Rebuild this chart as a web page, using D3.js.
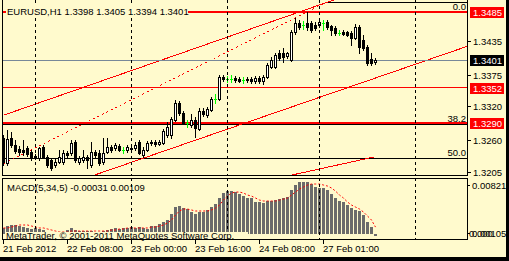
<!DOCTYPE html>
<html>
<head>
<meta charset="utf-8">
<script src="https://cdn.jsdelivr.net/npm/d3@7"></script>
<style>
  body { margin: 0; background: #fffacd; overflow: hidden; }
  text { font-family: "Liberation Sans", Arial, sans-serif; font-size: 9.5px; }
</style>
</head>
<body>
<div id="chart"></div>
<script>
// EURUSD H1 bars, 21 Feb 16:00 .. 27 Feb 14:00
const opens = [1.3264,1.3220,1.3264,1.3252,1.3245,1.3243,1.3247,1.3240,1.3233,1.3229,
  1.3248,1.3231,1.3226,1.3217,1.3222,1.3222,1.3238,1.3238,1.3257,1.3222,
  1.3226,1.3231,1.3217,1.3240,1.3238,1.3222,1.3240,1.3248,1.3247,1.3250,
  1.3243,1.3243,1.3247,1.3247,1.3257,1.3234,1.3243,1.3257,1.3257,1.3254,
  1.3255,1.3269,1.3269,1.3296,1.3325,1.3308,1.3290,1.3287,1.3296,1.3280,
  1.3311,1.3304,1.3313,1.3332,1.3332,1.3371,1.3368,1.3368,1.3369,1.3368,
  1.3366,1.3368,1.3368,1.3364,1.3369,1.3364,1.3371,1.3389,1.3389,1.3413,
  1.3413,1.3408,1.3401,1.3450,1.3466,1.3462,1.3466,1.3466,1.3462,1.3462,
  1.3466,1.3467,1.3460,1.3457,1.3448,1.3450,1.3450,1.3448,1.3439,1.3459,
  1.3436,1.3424,1.3403,1.3398];
const highs = [1.3269,1.3278,1.3275,1.3261,1.3250,1.3261,1.3250,1.3243,1.3236,1.3248,
  1.3252,1.3234,1.3229,1.3229,1.3243,1.3243,1.3241,1.3261,1.3261,1.3233,
  1.3243,1.3234,1.3257,1.3243,1.3243,1.3264,1.3264,1.3252,1.3255,1.3254,
  1.3248,1.3252,1.3250,1.3257,1.3261,1.3248,1.3259,1.3261,1.3261,1.3261,
  1.3280,1.3292,1.3301,1.3331,1.3329,1.3311,1.3296,1.3306,1.3301,1.3317,
  1.3317,1.3318,1.3336,1.3341,1.3375,1.3375,1.3373,1.3375,1.3373,1.3371,
  1.3371,1.3371,1.3371,1.3373,1.3373,1.3375,1.3396,1.3406,1.3413,1.3418,
  1.3422,1.3415,1.3453,1.3474,1.3471,1.3469,1.3485,1.3469,1.3467,1.3471,
  1.3471,1.3471,1.3462,1.3460,1.3453,1.3453,1.3452,1.3452,1.3464,1.3462,
  1.3445,1.3427,1.3413,1.3405];
const lows = [1.3217,1.3217,1.3248,1.3238,1.3234,1.3234,1.3233,1.3226,1.3227,1.3226,
  1.3229,1.3213,1.3208,1.3213,1.3220,1.3219,1.3229,1.3234,1.3222,1.3219,
  1.3222,1.3212,1.3213,1.3229,1.3217,1.3219,1.3238,1.3240,1.3243,1.3241,
  1.3238,1.3240,1.3241,1.3243,1.3236,1.3231,1.3241,1.3252,1.3250,1.3252,
  1.3254,1.3266,1.3264,1.3294,1.3304,1.3289,1.3283,1.3283,1.3266,1.3278,
  1.3303,1.3301,1.3311,1.3325,1.3331,1.3364,1.3362,1.3362,1.3362,1.3362,
  1.3361,1.3362,1.3361,1.3361,1.3361,1.3359,1.3369,1.3387,1.3387,1.3401,
  1.3397,1.3404,1.3399,1.3446,1.3455,1.3455,1.3453,1.3450,1.3453,1.3459,
  1.3453,1.3455,1.3445,1.3445,1.3445,1.3445,1.3443,1.3427,1.3438,1.3413,
  1.3418,1.3392,1.3392,1.3394];
const closes = [1.3222,1.3262,1.3252,1.3241,1.3240,1.3240,1.3236,1.3231,1.3231,1.3247,
  1.3231,1.3217,1.3212,1.3222,1.3231,1.3238,1.3234,1.3255,1.3226,1.3229,
  1.3231,1.3226,1.3240,1.3234,1.3220,1.3238,1.3248,1.3243,1.3252,1.3243,
  1.3243,1.3248,1.3245,1.3252,1.3238,1.3243,1.3255,1.3255,1.3254,1.3257,
  1.3276,1.3283,1.3297,1.3325,1.3308,1.3290,1.3290,1.3296,1.3282,1.3311,
  1.3306,1.3315,1.3332,1.3332,1.3371,1.3368,1.3368,1.3368,1.3366,1.3364,
  1.3366,1.3366,1.3364,1.3369,1.3364,1.3371,1.3392,1.3401,1.3410,1.3404,
  1.3406,1.3413,1.3450,1.3466,1.3459,1.3462,1.3459,1.3453,1.3457,1.3467,
  1.3466,1.3459,1.3453,1.3448,1.3448,1.3446,1.3445,1.3439,1.3459,1.3424,
  1.3422,1.3396,1.3396,1.3401];

// MACD(5,34,5) main histogram and signal
const macdHist = [0.00095,0.00126,0.00142,0.00142,0.00126,0.00110,0.00095,0.00079,0.00095,0.00079,
  0.00063,0.00032,0.00024,0.00016,0.00024,0.00032,0.00063,0.00095,0.00063,0.00047,
  0.00047,0.00047,0.00047,0.00032,0.00032,0.00047,0.00063,0.00079,0.00095,0.00079,
  0.00095,0.00095,0.00110,0.00095,0.00110,0.00095,0.00079,0.00126,0.00126,0.00158,
  0.00189,0.00221,0.00315,0.00426,0.00442,0.00410,0.00394,0.00347,0.00315,0.00347,
  0.00347,0.00379,0.00426,0.00473,0.00568,0.00647,0.00678,0.00678,0.00662,0.00631,
  0.00599,0.00568,0.00568,0.00505,0.00505,0.00489,0.00521,0.00521,0.00536,0.00552,
  0.00568,0.00584,0.00694,0.00773,0.00820,0.00821,0.00820,0.00789,0.00741,0.00726,
  0.00726,0.00694,0.00631,0.00568,0.00521,0.00505,0.00457,0.00410,0.00379,0.00363,
  0.00300,0.00189,0.00110,-0.00031];
const macdSignal = [0.00095,0.00095,0.00110,0.00126,0.00142,0.00142,0.00142,0.00126,0.00110,0.00095,
  0.00095,0.00079,0.00063,0.00047,0.00032,0.00032,0.00032,0.00047,0.00047,0.00047,
  0.00047,0.00047,0.00047,0.00047,0.00047,0.00047,0.00047,0.00063,0.00063,0.00079,
  0.00079,0.00095,0.00095,0.00095,0.00095,0.00095,0.00095,0.00110,0.00110,0.00126,
  0.00142,0.00174,0.00221,0.00300,0.00363,0.00394,0.00394,0.00379,0.00363,0.00363,
  0.00363,0.00363,0.00379,0.00410,0.00457,0.00536,0.00599,0.00647,0.00662,0.00662,
  0.00647,0.00615,0.00599,0.00568,0.00536,0.00521,0.00521,0.00521,0.00521,0.00536,
  0.00552,0.00568,0.00615,0.00662,0.00710,0.00741,0.00773,0.00789,0.00789,0.00789,
  0.00773,0.00757,0.00726,0.00678,0.00615,0.00568,0.00505,0.00457,0.00426,0.00394,
  0.00347,0.00284,0.00221,0.00109];

const timeLabels = ["21 Feb 2012", "22 Feb 08:00", "23 Feb 00:00", "23 Feb 16:00", "24 Feb 08:00", "27 Feb 01:00"];
const timeLabelBars = [0, 16, 32, 48, 64, 80];
const gridBars = [8, 32, 56, 79, 103];

const priceTicks = [1.3435, 1.3375, 1.3320, 1.3260, 1.3205];
const redLevels = [1.3485, 1.3352, 1.3290];
const bidPrice = 1.3401;
const fiboLevels = ["0.0", "38.2", "50.0"];
const fiboPrices = [1.3503, 1.3289, 1.3229];

const upperChannel = [[0, 1.3304], [116, 1.3588]];
const lowerChannel = [[0, 1.3144], [116, 1.3425]];
const fiboTrend = [[0, 1.3219], [81, 1.3503]];
const lowTrend = [[72, 1.3199], [92.75, 1.3231]];

const macdTicks = ["0.00821", "0.00105"];

const W = 509, H = 261;
const plotL = 2, plotR = 467, mainB = 175, macdT = 178, macdB = 239;
const bg = "#fffacd";

const svg = d3.select("#chart").append("svg")
    .attr("width", W).attr("height", H)
    .attr("shape-rendering", "crispEdges");

svg.append("rect").attr("width", W).attr("height", H).attr("fill", bg);

const x = d3.scaleLinear().domain([0, 1]).range([3, 7]);
const y = d3.scaleLinear().domain([1.3205, 1.3485]).range([171.7, 12]);
const ym = d3.scaleLinear().domain([0, 0.00821]).range([234, 182]);

const defs = svg.append("defs");
defs.append("clipPath").attr("id", "mainClip").append("rect")
    .attr("x", plotL).attr("y", 0).attr("width", plotR - plotL).attr("height", mainB);
defs.append("clipPath").attr("id", "macdClip").append("rect")
    .attr("x", plotL).attr("y", macdT).attr("width", plotR - plotL).attr("height", macdB - macdT);

const main = svg.append("g").attr("clip-path", "url(#mainClip)");
const macd = svg.append("g").attr("clip-path", "url(#macdClip)");

// grid
gridBars.forEach(g => {
    const gx = Math.round(x(g)) + 0.5;
    [[0, mainB], [macdT, macdB]].forEach(([a, b]) => {
        svg.append("line").attr("x1", gx).attr("x2", gx).attr("y1", a).attr("y2", b)
            .attr("stroke", "#000").attr("stroke-dasharray", "3,3");
    });
});

// fibo levels (black)
fiboPrices.forEach((p, k) => {
    const ly = Math.round(y(p)) + 0.5;
    main.append("line").attr("x1", k === 0 ? x(81) : plotL).attr("x2", plotR)
        .attr("y1", ly).attr("y2", ly).attr("stroke", "#000");
});

const lineGen = d3.line().x(d => x(d[0]) + 0.5).y(d => y(d[1]));
main.append("path").attr("d", lineGen(upperChannel)).attr("fill", "none").attr("stroke", "#f00");
main.append("path").attr("d", lineGen(lowerChannel)).attr("fill", "none").attr("stroke", "#f00");
main.append("path").attr("d", lineGen(lowTrend)).attr("fill", "none").attr("stroke", "#f00");
main.append("path").attr("d", lineGen(fiboTrend)).attr("fill", "none").attr("stroke", "#f00")
    .attr("stroke-dasharray", "2,3");

// horizontal price lines
redLevels.forEach((p, k) => {
    const ly = Math.round(y(p));
    main.append("rect").attr("x", plotL).attr("width", plotR - plotL)
        .attr("y", ly - 1).attr("height", k === 1 ? 1 : 2).attr("fill", "#f00");
});
main.append("rect").attr("x", plotL).attr("width", plotR - plotL)
    .attr("y", Math.round(y(bidPrice))).attr("height", 1).attr("fill", "#778899");

// candles
opens.forEach((o, i) => {
    const c = closes[i], h = highs[i], l = lows[i];
    const cx = Math.round(x(i));
    const doji = Math.abs(c - o) < 1e-9;
    const yh = Math.round(y(h)), yl = Math.round(y(l));
    const top = Math.round(y(Math.max(o, c))), bot = Math.round(y(Math.min(o, c)));
    main.append("rect").attr("x", cx).attr("width", 1).attr("y", yh).attr("height", yl - yh + 1)
        .attr("fill", doji ? "#00ff00" : "#000");
    if (doji) {
        main.append("rect").attr("x", cx - 1).attr("width", 3).attr("y", top).attr("height", 1).attr("fill", "#00ff00");
    } else if (c < o) {
        main.append("rect").attr("x", cx - 1).attr("width", 3).attr("y", top).attr("height", bot - top + 1).attr("fill", "#000");
    } else {
        main.append("rect").attr("x", cx - 0.5).attr("width", 2).attr("y", top + 0.5).attr("height", Math.max(bot - top, 1))
            .attr("fill", "#fff").attr("stroke", "#000");
    }
});

// MACD
macdHist.forEach((v, i) => {
    const cx = Math.round(x(i));
    const a = Math.round(ym(v)), z = Math.round(ym(0));
    macd.append("rect").attr("x", cx - 1).attr("width", 3)
        .attr("y", Math.min(a, z)).attr("height", Math.max(Math.abs(a - z), 1)).attr("fill", "#6b6b6b");
});
macd.append("path")
    .attr("d", d3.line().x((d, i) => x(i) + 0.5).y(d => ym(d))(macdSignal))
    .attr("fill", "none").attr("stroke", "#f00").attr("stroke-dasharray", "2,2")
    .attr("shape-rendering", "auto");

// borders
const frame = svg.append("g").attr("stroke", "#000").attr("fill", "none");
frame.append("path").attr("d", `M${plotL + 0.5},0V${mainB + 0.5}H${plotR + 0.5}V0`);
frame.append("path").attr("d", `M${plotL + 0.5},${macdT + 0.5}H${plotR + 0.5}V${macdB + 0.5}H${plotL + 0.5}Z`);

// title
svg.append("rect").attr("x", 6).attr("y", 6).attr("width", 182).attr("height", 10).attr("fill", bg);
svg.append("text").attr("x", 7).attr("y", 14.5)
    .text(`EURUSD,H1  ${opens[93].toFixed(4)} ${highs[93].toFixed(4)} ${lows[93].toFixed(4)} ${closes[93].toFixed(4)}`);

// fibo level labels
fiboLevels.forEach((t, k) => {
    const ly = y(fiboPrices[k]);
    svg.append("text").attr("x", plotR - 1).attr("y", Math.max(ly - 2, 9.5))
        .attr("text-anchor", "end").text(t);
});

// right price axis
priceTicks.forEach(p => {
    const ty = Math.round(y(p)) + 0.5;
    svg.append("line").attr("x1", plotR).attr("x2", plotR + 4).attr("y1", ty).attr("y2", ty).attr("stroke", "#000");
    svg.append("text").attr("x", plotR + 6).attr("y", ty + 3.5).text(p.toFixed(4));
});
const tagged = redLevels.map(p => [p, "#f00"]).concat([[bidPrice, "#000"]]);
tagged.forEach(([p, col]) => {
    const ty = Math.round(y(p));
    svg.append("rect").attr("x", plotR + 3).attr("y", ty - 5).attr("width", 34).attr("height", 11).attr("fill", col);
    svg.append("text").attr("x", plotR + 6).attr("y", ty + 4).attr("fill", "#fff").text(p.toFixed(4));
});

// MACD labels
svg.append("text").attr("x", 7).attr("y", 191)
    .text(`MACD(5,34,5) ${macdHist[93].toFixed(5)} ${macdSignal[93].toFixed(5)}`);
svg.append("rect").attr("x", 5).attr("y", 232).attr("width", 243).attr("height", 7).attr("fill", bg);
svg.append("text").attr("x", 6).attr("y", 238.5).text("MetaTrader, © 2001-2011 MetaQuotes Software Corp.");
svg.append("line").attr("x1", plotR).attr("x2", plotR + 3).attr("y1", 185.5).attr("y2", 185.5).attr("stroke", "#000");
svg.append("line").attr("x1", plotR).attr("x2", plotR + 3).attr("y1", 233.5).attr("y2", 233.5).attr("stroke", "#000");
svg.append("text").attr("x", plotR + 5).attr("y", 189).text(macdTicks[0]);
svg.append("text").attr("x", plotR + 2).attr("y", 237).text("0.000");
svg.append("text").attr("x", plotR + 5).attr("y", 237).text(macdTicks[1]);

// time axis
timeLabelBars.forEach((b, k) => {
    const tx = Math.round(x(b)) + 0.5;
    svg.append("line").attr("x1", tx).attr("x2", tx).attr("y1", macdB).attr("y2", macdB + 5).attr("stroke", "#000");
    svg.append("text").attr("x", tx - 0.5).attr("y", 252).text(timeLabels[k]);
});

// outer dark edge
svg.append("rect").attr("x", 506).attr("y", 0).attr("width", 3).attr("height", H).attr("fill", "#000");
svg.append("rect").attr("x", 0).attr("y", 257).attr("width", W).attr("height", 4).attr("fill", "#000");
</script>
</body>
</html>
